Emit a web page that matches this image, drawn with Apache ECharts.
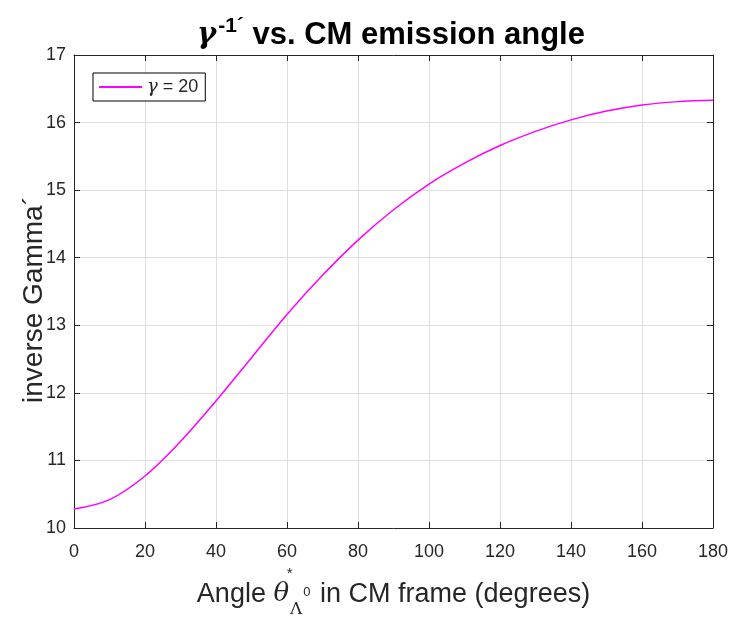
<!DOCTYPE html>
<html>
<head>
<meta charset="utf-8">
<script src="https://cdn.jsdelivr.net/npm/echarts@6/dist/echarts.min.js"></script>
<style>
  html, body { margin: 0; padding: 0; background: #fff; }
  #charts { width: 731px; height: 618px; }
</style>
</head>
<body>
<div id="charts"></div>
<script>
// angle in CM frame (degrees)
var angles = [0, 10, 20, 30, 40, 50, 60, 70, 80, 90, 100, 110, 120, 130, 140, 150, 160, 170, 180];
// inverse gamma'
var invGamma = [10.28, 10.42, 10.77, 11.28, 11.88, 12.52, 13.16, 13.74, 14.26, 14.71, 15.09, 15.40, 15.66, 15.87, 16.04, 16.17, 16.26, 16.31, 16.33];

var axisColor = '#262626';
var gridColor = '#dfdfdf';
var font = 'Liberation Sans, Arial, sans-serif';
var serif = 'DejaVu Serif, serif';

function showChart() {
    var myChart = echarts.init(document.getElementById('charts'));

    var points = [];
    for (var i = 0; i < angles.length; i++) {
        points.push([angles[i], invGamma[i]]);
    }

    //刻度朝里，四边都有
    var tick = {show: true, inside: true, length: 6, lineStyle: {color: axisColor, width: 1}};
    var line = {show: true, onZero: false, lineStyle: {color: axisColor, width: 1}};

    myChart.setOption({
        backgroundColor: '#fff',
        animation: false,
        title: {
            text: '{g|γ}{s|-1´}{b| vs. CM emission angle}',
            left: 386,
            textAlign: 'center',
            top: 11,
            textStyle: {
                rich: {
                    g: {fontFamily: serif, fontStyle: 'italic', fontSize: 29, color: '#000'},
                    s: {fontFamily: font, fontWeight: 'bold', fontSize: 21, color: '#000', padding: [0, 0, 18, 2]},
                    b: {fontFamily: font, fontWeight: 'bold', fontSize: 31, color: '#000'}
                }
            }
        },
        legend: {
            left: 93, top: 73,
            orient: 'vertical',
            itemWidth: 43, itemHeight: 2, itemGap: 0,
            padding: [5, 7, 5, 6],
            borderColor: '#000', borderWidth: 1,
            backgroundColor: '#fff',
            icon: 'rect',
            data: ['gamma'],
            formatter: function () { return '{g|γ}{t| = 20}'; },
            textStyle: {
                rich: {
                    g: {fontFamily: serif, fontStyle: 'italic', fontSize: 18, color: '#262626'},
                    t: {fontFamily: font, fontSize: 18, color: '#262626'}
                }
            }
        },
        grid: {left: 74, right: 18, top: 55, bottom: 90, containLabel: false, outerBoundsMode: 'none'},
        xAxis: [{
            type: 'value',
            min: 0, max: 180, interval: 20,
            position: 'bottom',
            name: '{a|Angle }{th|θ}{st|*}{lm|Λ}{z|0}{a| in CM frame (degrees)}',
            nameLocation: 'middle',
            nameMoveOverlap: false,
            nameGap: 38,
            nameTextStyle: {
                rich: {
                    a: {fontFamily: font, fontSize: 27, color: axisColor},
                    th: {fontFamily: serif, fontStyle: 'italic', fontSize: 26, color: axisColor},
                    st: {fontFamily: font, fontSize: 15, color: axisColor, width: 1, padding: [0, 0, 42, 0]},
                    lm: {fontFamily: serif, fontSize: 17, color: axisColor, padding: [30, 0, 0, 0]},
                    z: {fontFamily: font, fontSize: 13, color: axisColor, padding: [0, 2, 4, 1]}
                }
            },
            axisLine: line,
            axisTick: tick,
            axisLabel: {fontFamily: font, fontSize: 18, color: axisColor, margin: 15},
            splitLine: {show: true, lineStyle: {color: gridColor, width: 1}}
        }, {
            type: 'value',
            min: 0, max: 180, interval: 20,
            position: 'top',
            axisLine: line,
            axisTick: tick,
            axisLabel: {show: false},
            splitLine: {show: false}
        }],
        yAxis: [{
            type: 'value',
            min: 10, max: 17, interval: 1,
            position: 'left',
            name: 'inverse Gamma´',
            nameLocation: 'middle',
            nameMoveOverlap: false,
            nameGap: 26,
            nameTextStyle: {fontFamily: font, fontSize: 28, color: axisColor, padding: [0, 16, 0, 0]},
            axisLine: line,
            axisTick: tick,
            axisLabel: {fontFamily: font, fontSize: 18, color: axisColor, margin: 8},
            splitLine: {show: true, lineStyle: {color: gridColor, width: 1}}
        }, {
            type: 'value',
            min: 10, max: 17, interval: 1,
            position: 'right',
            axisLine: line,
            axisTick: tick,
            axisLabel: {show: false},
            splitLine: {show: false}
        }],
        series: [{
            name: 'gamma',
            type: 'line',
            data: points,
            smooth: 0.35,
            showSymbol: false,
            symbol: 'none',
            lineStyle: {color: '#ff00ff', width: 1.5},
            itemStyle: {color: '#ff00ff'}
        }]
    });
}

showChart();
</script>
</body>
</html>
